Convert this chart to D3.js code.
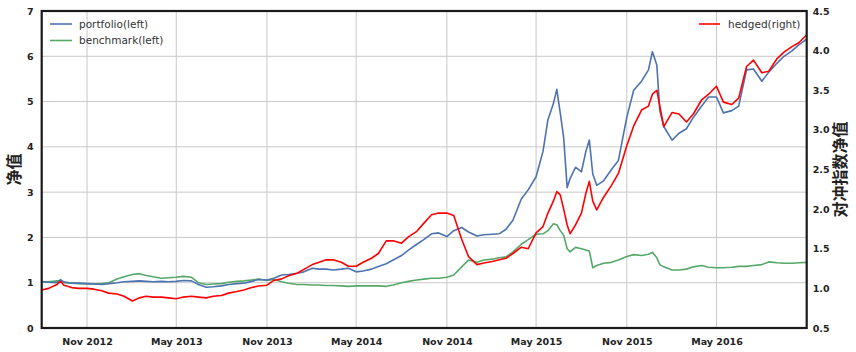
<!DOCTYPE html>
<html lang="zh">
<head>
<meta charset="utf-8">
<script src="https://d3js.org/d3.v7.min.js"></script>
<style>
  body { margin: 0; background: #fff; }
  .tick text { font-family: "DejaVu Sans", sans-serif; font-weight: bold; font-size: 9.5px; fill: #222; }
  .legend text { font-family: "DejaVu Sans", sans-serif; font-size: 10.5px; fill: #333; }
  .ylabel { font-family: "Noto Sans CJK SC", sans-serif; font-weight: bold; font-size: 16px; fill: #222; }
</style>
</head>
<body>
<script>
// dates (semi-monthly, denser around the 2015 swings)
var dates = [
  "2012-08-01","2012-08-15","2012-09-01","2012-09-08","2012-09-15","2012-10-01","2012-10-15",
  "2012-11-01","2012-11-15","2012-12-01","2012-12-15","2013-01-01","2013-01-15","2013-02-01","2013-02-15",
  "2013-03-01","2013-03-15","2013-04-01","2013-04-15","2013-05-01","2013-05-15","2013-06-01","2013-06-15",
  "2013-07-01","2013-07-15","2013-08-01","2013-08-15","2013-09-01","2013-09-15","2013-10-01","2013-10-15",
  "2013-11-01","2013-11-15","2013-12-01","2013-12-15","2014-01-01","2014-01-15","2014-02-01","2014-02-15",
  "2014-03-01","2014-03-15","2014-04-01","2014-04-15","2014-05-01","2014-05-15","2014-06-01","2014-06-15",
  "2014-07-01","2014-07-15","2014-08-01","2014-08-15","2014-09-01","2014-09-15","2014-10-01","2014-10-15",
  "2014-11-01","2014-11-15","2014-12-01","2014-12-15","2015-01-01","2015-01-15","2015-02-01","2015-02-15",
  "2015-03-01","2015-03-15","2015-04-01","2015-04-15","2015-05-01","2015-05-15","2015-05-25","2015-06-05",
  "2015-06-12","2015-06-19","2015-06-26","2015-07-03","2015-07-09","2015-07-20","2015-08-01","2015-08-10",
  "2015-08-17","2015-08-24","2015-09-01","2015-09-15","2015-10-01","2015-10-15","2015-11-01","2015-11-15",
  "2015-12-01","2015-12-15","2015-12-23","2016-01-01","2016-01-07","2016-01-15","2016-02-01","2016-02-15",
  "2016-03-01","2016-03-15","2016-04-01","2016-04-15","2016-05-01","2016-05-15","2016-06-01","2016-06-15",
  "2016-07-01","2016-07-15","2016-08-01","2016-08-15","2016-09-01","2016-09-15","2016-10-01","2016-10-15",
  "2016-10-31"
];

var portfolio = [
  1.02,1.01,1.00,1.07,1.02,0.99,0.99,
  0.98,0.97,0.96,0.98,1.00,1.02,1.03,1.04,
  1.03,1.02,1.03,1.02,1.03,1.05,1.04,0.96,
  0.90,0.91,0.93,0.96,0.98,0.99,1.03,1.07,
  1.06,1.10,1.17,1.18,1.21,1.24,1.32,1.30,
  1.30,1.28,1.30,1.32,1.24,1.26,1.30,1.36,
  1.42,1.50,1.60,1.72,1.85,1.95,2.08,2.10,
  2.02,2.15,2.22,2.12,2.03,2.06,2.07,2.08,
  2.18,2.38,2.85,3.05,3.34,3.90,4.60,4.95,
  5.27,4.75,4.20,3.10,3.30,3.55,3.45,3.90,
  4.15,3.40,3.15,3.25,3.50,3.70,4.65,5.25,
  5.45,5.70,6.10,5.80,4.80,4.45,4.15,4.30,
  4.40,4.65,4.90,5.10,5.10,4.75,4.80,4.90,
  5.70,5.72,5.45,5.65,5.85,6.00,6.12,6.25,
  6.38
];

var benchmark = [
  1.02,1.02,1.04,1.03,1.00,0.99,0.98,
  0.97,0.97,0.98,1.00,1.08,1.13,1.18,1.20,
  1.16,1.13,1.10,1.11,1.12,1.14,1.12,1.00,
  0.96,0.97,0.98,1.01,1.03,1.04,1.06,1.08,
  1.05,1.07,1.02,0.99,0.96,0.96,0.95,0.95,
  0.94,0.94,0.93,0.92,0.93,0.93,0.93,0.93,
  0.92,0.95,1.00,1.03,1.06,1.08,1.10,1.10,
  1.12,1.17,1.35,1.50,1.45,1.50,1.52,1.55,
  1.57,1.68,1.85,1.95,2.07,2.08,2.15,2.30,
  2.28,2.15,2.05,1.75,1.68,1.78,1.75,1.72,
  1.70,1.33,1.38,1.43,1.45,1.50,1.58,1.62,
  1.60,1.63,1.67,1.55,1.40,1.35,1.28,1.28,
  1.30,1.35,1.38,1.34,1.33,1.33,1.34,1.36,
  1.36,1.38,1.40,1.46,1.44,1.43,1.43,1.44,
  1.45
];

var hedged = [
  0.98,1.00,1.05,1.09,1.04,1.01,1.00,
  1.00,0.99,0.97,0.94,0.93,0.90,0.84,0.88,
  0.90,0.89,0.89,0.88,0.87,0.89,0.90,0.89,
  0.88,0.90,0.91,0.94,0.96,0.98,1.01,1.03,
  1.04,1.10,1.12,1.16,1.19,1.24,1.30,1.33,
  1.36,1.36,1.33,1.28,1.28,1.33,1.38,1.44,
  1.60,1.60,1.57,1.65,1.72,1.82,1.93,1.95,
  1.95,1.92,1.62,1.40,1.30,1.32,1.34,1.36,
  1.38,1.44,1.52,1.50,1.70,1.78,1.95,2.10,
  2.22,2.18,2.00,1.80,1.69,1.80,1.95,2.20,
  2.35,2.10,1.99,2.15,2.30,2.45,2.80,3.05,
  3.25,3.30,3.45,3.50,3.30,3.04,3.22,3.20,
  3.10,3.20,3.38,3.45,3.55,3.35,3.32,3.40,
  3.80,3.88,3.72,3.74,3.90,3.98,4.05,4.10,
  4.20
];

var xTicks = ["2012-11-01","2013-05-01","2013-11-01","2014-05-01","2014-11-01","2015-05-01","2015-11-01","2016-05-01"];
var leftTicks = [0, 1, 2, 3, 4, 5, 6, 7];
var rightTicks = [0.5, 1.0, 1.5, 2.0, 2.5, 3.0, 3.5, 4.0, 4.5];

var width = 856, height = 352;
var margin = {left: 41.7, right: width - 806.7, top: 11, bottom: height - 328};
var parse = d3.timeParse("%Y-%m-%d");
var days = dates.map(parse);

var svg = d3.select("body").append("svg").attr("width", width).attr("height", height);

var x = d3.scaleTime()
  .domain([days[0], days[days.length - 1]])
  .range([margin.left, width - margin.right]);
var yL = d3.scaleLinear().domain([0, 7]).range([height - margin.bottom, margin.top]);
var yR = d3.scaleLinear().domain([0.5, 4.5]).range([height - margin.bottom, margin.top]);

// grid
svg.append("g").selectAll("line").data(xTicks.map(parse)).join("line")
  .attr("x1", d => x(d)).attr("x2", d => x(d))
  .attr("y1", margin.top).attr("y2", height - margin.bottom)
  .attr("stroke", "#c8c8c8").attr("stroke-width", 1);
svg.append("g").selectAll("line").data(leftTicks).join("line")
  .attr("x1", margin.left).attr("x2", width - margin.right)
  .attr("y1", d => yL(d)).attr("y2", d => yL(d))
  .attr("stroke", "#c8c8c8").attr("stroke-width", 1);

// lines
function drawLine(vals, y, color) {
  var line = d3.line().x((d, i) => x(days[i])).y(d => y(d));
  svg.append("path").datum(vals)
    .attr("d", line)
    .attr("fill", "none")
    .attr("stroke", color)
    .attr("stroke-width", 1.6)
    .attr("stroke-linejoin", "round");
}
drawLine(benchmark, yL, "#55A868");
drawLine(portfolio, yL, "#4C72B0");
drawLine(hedged, yR, "#FF0000");

// frame
svg.append("rect")
  .attr("x", margin.left).attr("y", margin.top)
  .attr("width", width - margin.right - margin.left)
  .attr("height", height - margin.bottom - margin.top)
  .attr("fill", "none").attr("stroke", "#1a1a1a").attr("stroke-width", 2.2);

// axes
var fmt = d3.timeFormat("%b %Y");
svg.append("g")
  .attr("transform", "translate(0," + (height - margin.bottom) + ")")
  .call(d3.axisBottom(x).tickValues(xTicks.map(parse)).tickFormat(fmt).tickSize(0).tickPadding(10))
  .call(g => g.select(".domain").remove());
svg.append("g")
  .attr("transform", "translate(" + margin.left + ",0)")
  .call(d3.axisLeft(yL).tickValues(leftTicks).tickFormat(d3.format("d")).tickSize(0).tickPadding(8))
  .call(g => g.select(".domain").remove());
svg.append("g")
  .attr("transform", "translate(" + (width - margin.right) + ",0)")
  .call(d3.axisRight(yR).tickValues(rightTicks).tickFormat(d3.format(".1f")).tickSize(0).tickPadding(6))
  .call(g => g.select(".domain").remove());

// axis labels
svg.append("text").attr("class", "ylabel")
  .attr("transform", "translate(20," + ((margin.top + height - margin.bottom) / 2) + ") rotate(-90)")
  .attr("text-anchor", "middle").text("净值");
svg.append("text").attr("class", "ylabel")
  .attr("transform", "translate(846," + ((margin.top + height - margin.bottom) / 2) + ") rotate(-90)")
  .attr("text-anchor", "middle").text("对冲指数净值");

// legends
var legL = svg.append("g").attr("class", "legend");
[["portfolio(left)", "#4C72B0"], ["benchmark(left)", "#55A868"]].forEach(function(d, i) {
  var yy = 24 + i * 16.5;
  legL.append("line").attr("x1", 50).attr("x2", 72).attr("y1", yy).attr("y2", yy)
    .attr("stroke", d[1]).attr("stroke-width", 1.6);
  legL.append("text").attr("x", 79).attr("y", yy).attr("dy", "0.35em").text(d[0]);
});
var legR = svg.append("g").attr("class", "legend");
legR.append("line").attr("x1", 699).attr("x2", 720).attr("y1", 24).attr("y2", 24)
  .attr("stroke", "#FF0000").attr("stroke-width", 1.6);
legR.append("text").attr("x", 728).attr("y", 24).attr("dy", "0.35em").text("hedged(right)");
</script>
</body>
</html>
